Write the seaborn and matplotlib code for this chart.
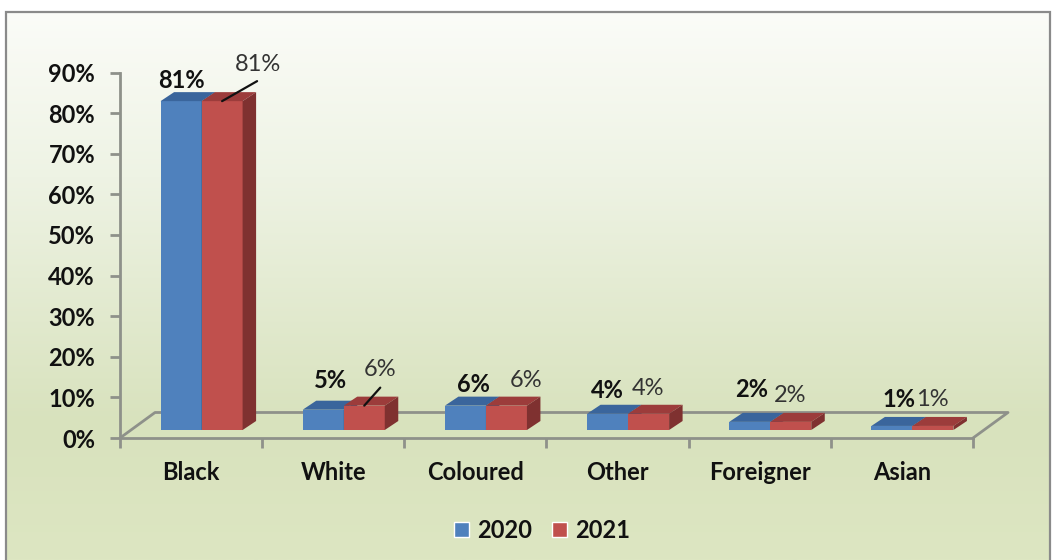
import numpy as np
import pandas as pd
import seaborn as sns
import matplotlib.pyplot as plt
from matplotlib.colors import LinearSegmentedColormap
from matplotlib.patches import Polygon, Rectangle
from matplotlib.lines import Line2D
from matplotlib.transforms import Affine2D, IdentityTransform

groups = ['Black', 'White', 'Coloured', 'Other', 'Foreigner', 'Asian']
share_2020 = [81, 5, 6, 4, 2, 1]
share_2021 = [81, 6, 6, 4, 2, 1]
y_ticks = [0, 10, 20, 30, 40, 50, 60, 70, 80, 90]

df = pd.DataFrame({
    'group': groups * 2,
    'share': share_2020 + share_2021,
    'year': ['2020'] * 6 + ['2021'] * 6,
})

W, H = 1052, 560
sns.set_theme(style='white')
plt.rcParams['font.family'] = ['Lato', 'DejaVu Sans']
TEXT = '#111111'
GREY = '#8e918a'
FS = 17

fig = plt.figure(figsize=(W / 100, H / 100), dpi=100, facecolor='white')

# gradient background behind everything
bg = fig.add_axes([6 / W, 0, (1050 - 6) / W, (H - 12) / H], zorder=0)
cmap = LinearSegmentedColormap.from_list('bg', [
    (0, '#fbfcf8'), (0.3, '#eef3e4'), (0.75, '#d8e2bd'), (1, '#dde6c2')])
bg.imshow(np.linspace(0, 1, 256).reshape(-1, 1), cmap=cmap, aspect='auto')
bg.axis('off')
fig.add_artist(Rectangle((6 / W, -0.01), (1050 - 6) / W, (H - 12) / H + 0.01,
                         transform=fig.transFigure, fill=False,
                         edgecolor='#8a8a8a', linewidth=1.6))

# plot area is the front edge of the 3d floor
x0, x1, y0, y1 = 120, 973, H - 438, H - 72.6
ax = fig.add_axes([x0 / W, y0 / H, (x1 - x0) / W, (y1 - y0) / H], zorder=1)
ax.patch.set_alpha(0)

sns.barplot(data=df, x='group', y='share', hue='year',
            palette=['#4f81bd', '#c0504d'], saturation=1,
            width=0.577, gap=0, legend=False, ax=ax)
ax.set_xlim(-0.5, 5.5)
ax.set_ylim(0, 90)
ax.set_xlabel('')
ax.set_ylabel('')
ax.set_yticks(y_ticks)
ax.set_yticklabels([f'{v}%' for v in y_ticks], fontsize=FS, fontweight='bold', color=TEXT)
ax.set_xticks(np.arange(-0.5, 6))
ax.set_xticklabels([])
ax.tick_params(axis='both', length=7, width=2, color=GREY, left=True, bottom=True)
ax.tick_params(axis='y', pad=11)
for lab_x, name in enumerate(groups):
    ax.annotate(name, (lab_x, 0), xytext=(0, -34), textcoords='offset pixels',
                ha='center', va='center', fontsize=FS, fontweight='bold', color=TEXT)
for side in ['top', 'right']:
    ax.spines[side].set_visible(False)
for side in ['left', 'bottom']:
    ax.spines[side].set_color(GREY)
    ax.spines[side].set_linewidth(2)

# floor outline
depth_x, depth_y = 35, 25.5
floor_x = [x0, x0 + depth_x, x1 + depth_x, x1]
floor_y = [y0, y0 + depth_y, y0 + depth_y, y0]
ax.add_line(Line2D(floor_x, floor_y, transform=IdentityTransform(), color=GREY,
                   linewidth=2, clip_on=False, zorder=1))

# bars sit part way back on the floor, with a top and a side face
shift_x, shift_y = 10.5, 8
bar_dx, bar_dy = 13.5, 9
faces = {0: ('#3a659c', '#36597f'), 1: ('#9c3c3b', '#7f3130')}
fig.canvas.draw()
shift = ax.transData + Affine2D().translate(shift_x, shift_y)
for k, cont in enumerate(ax.containers):
    top_col, side_col = faces[k]
    for p in cont.patches:
        p.set_transform(shift)
        p.set_clip_on(False)
        p.set_edgecolor('none')
        p.set_zorder(3 + k)
        (xa, ya), (xb, yb) = shift.transform([(p.get_x(), 0), (p.get_x() + p.get_width(), p.get_height())])
        ax.add_patch(Polygon([(xa, yb), (xb, yb), (xb + bar_dx, yb + bar_dy), (xa + bar_dx, yb + bar_dy)],
                             transform=IdentityTransform(), facecolor=top_col,
                             edgecolor='none', clip_on=False, zorder=3 + k))
        ax.add_patch(Polygon([(xb, ya), (xb, yb), (xb + bar_dx, yb + bar_dy), (xb + bar_dx, ya + bar_dy)],
                             transform=IdentityTransform(), facecolor=side_col,
                             edgecolor='none', clip_on=False, zorder=3 + k))

# data labels, nudged by hand like in the original
offsets_2020 = [(0, 21), (7, 29), (8, 21), (0, 23), (2, 32), (7, 26)]
offsets_2021 = [(36, 37), (16, 36), (20, 25), (-1, 25), (-1, 26), (-1, 26)]
for k, offsets in enumerate([offsets_2020, offsets_2021]):
    for p, off in zip(ax.containers[k].patches, offsets):
        px, py = shift.transform((p.get_x() + p.get_width() / 2, p.get_height()))
        ax.text(px + off[0], py + off[1], f'{p.get_height():.0f}%',
                transform=IdentityTransform(), ha='center', va='center', fontsize=FS,
                fontweight='bold' if k == 0 else 'normal',
                color=TEXT if k == 0 else '#333333', zorder=6)

# leader lines on the two labels that were dragged away
for i, (dx, dy) in [(0, (35, 20)), (1, (16, 18))]:
    p = ax.containers[1].patches[i]
    px, py = shift.transform((p.get_x() + p.get_width() / 2, p.get_height()))
    ax.add_line(Line2D([px, px + dx], [py, py + dy], transform=IdentityTransform(),
                       color='#111111', linewidth=1.6, clip_on=False, zorder=6))

handles = [Rectangle((0, 0), 1, 1, facecolor='#4f81bd'), Rectangle((0, 0), 1, 1, facecolor='#c0504d')]
fig.legend(handles, ['2020', '2021'], loc='center', bbox_to_anchor=(542 / W, (H - 530) / H),
           ncol=2, frameon=False, handlelength=0.62, handleheight=0.62, handletextpad=0.35,
           columnspacing=0.85, prop={'size': FS, 'weight': 'bold'}, labelcolor=TEXT)

fig.savefig('out.png', dpi=100)
plt.close()
